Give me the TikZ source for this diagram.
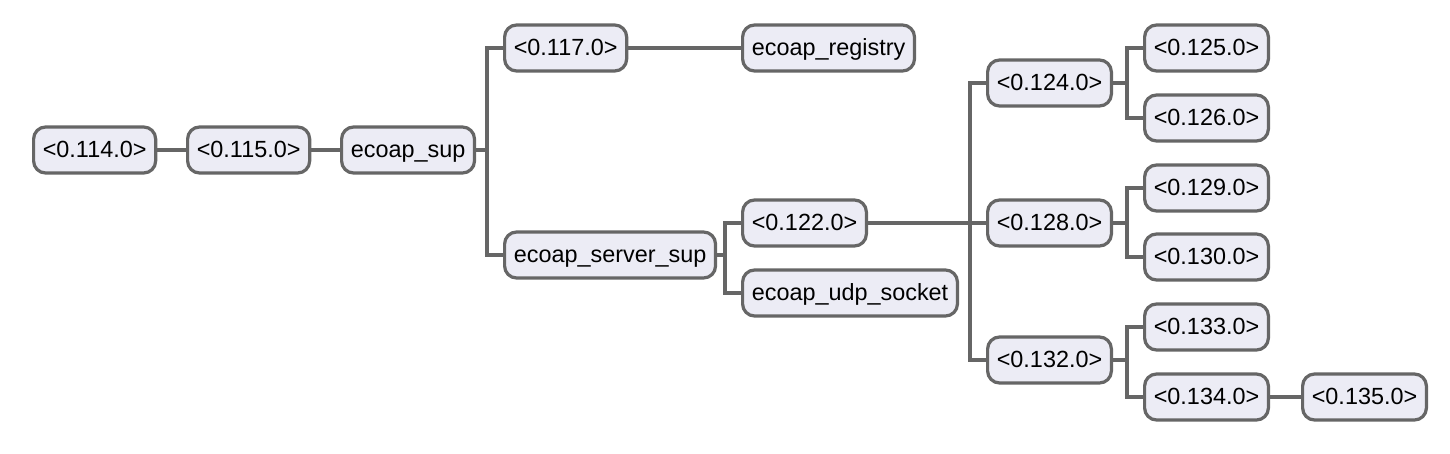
\documentclass[tikz,border=0pt]{standalone}
\usepackage{fontspec}
\setmainfont{Liberation Sans}
\usetikzlibrary{positioning}

\definecolor{boxfill}{HTML}{ECECF5}
\definecolor{boxline}{HTML}{666666}

\begin{document}
\begin{tikzpicture}[
    x=0.5pt, y=-0.5pt,
    proc/.style={draw=boxline, fill=boxfill, line width=1.6pt, rectangle, rounded corners=6pt, anchor=west, minimum height=23pt, inner xsep=4.6pt, text height=0.72em, text depth=0em, font=\fontsize{11.7}{13}\selectfont},
    link/.style={draw=boxline, line width=1.6pt}
]
\useasboundingbox (0,0) rectangle (1450,454);

% Nodes
\node (n114) [proc] at (32,150) {<0.114.0>};
\node (n115) [proc] at (186,150) {<0.115.0>};
\node (sup) [proc] at (340,150) {ecoap\_sup};
\node (n117) [proc] at (503,48) {<0.117.0>};
\node (registry) [proc] at (741,48) {ecoap\_registry};
\node (server) [proc] at (503,255) {ecoap\_server\_sup};
\node (n122) [proc] at (741,223) {<0.122.0>};
\node (udp) [proc] at (741,293) {ecoap\_udp\_socket};

% Workers
\node (n124) [proc] at (986,83) {<0.124.0>};
\node (n128) [proc] at (986,223) {<0.128.0>};
\node (n132) [proc] at (986,360) {<0.132.0>};
\node (n125) [proc] at (1143,48) {<0.125.0>};
\node (n126) [proc] at (1143,118) {<0.126.0>};
\node (n129) [proc] at (1143,188) {<0.129.0>};
\node (n130) [proc] at (1143,257) {<0.130.0>};
\node (n133) [proc] at (1143,327) {<0.133.0>};
\node (n134) [proc] at (1143,397) {<0.134.0>};
\node (n135) [proc] at (1301,397) {<0.135.0>};

% Connections
\foreach \p/\c in {n114/n115, n115/sup, sup/n117, sup/server, n117/registry, server/n122, server/udp, n122/n124, n122/n128, n122/n132, n124/n125, n124/n126, n128/n129, n128/n130, n132/n133, n132/n134, n134/n135}
    \draw [link] (\p.east) -- ([xshift=-8pt]\c.west |- \p.east) |- (\c.west);

\end{tikzpicture}
\end{document}
